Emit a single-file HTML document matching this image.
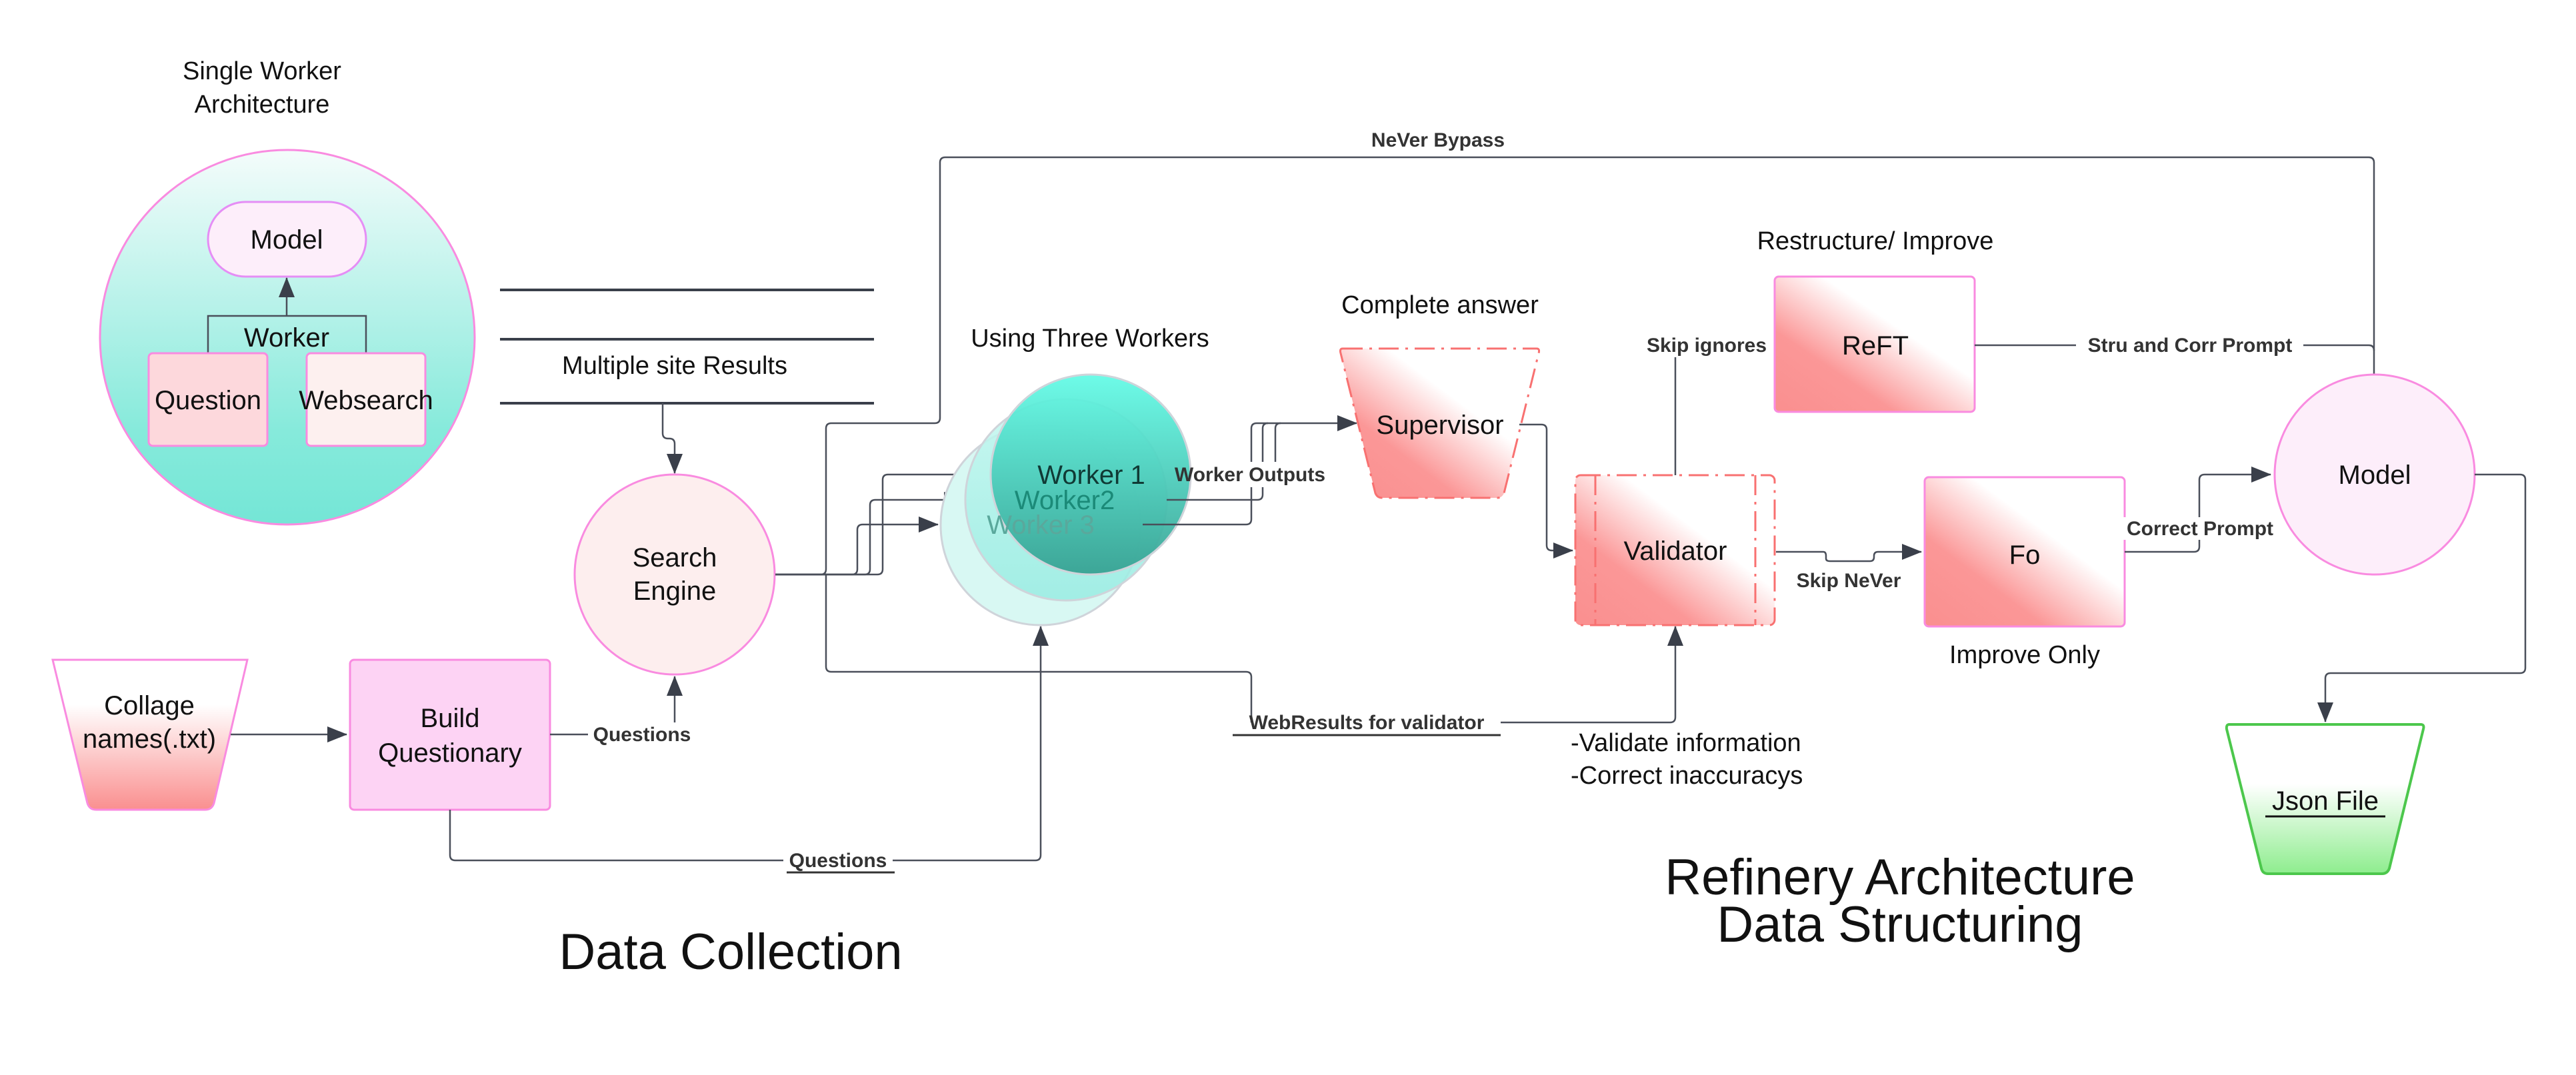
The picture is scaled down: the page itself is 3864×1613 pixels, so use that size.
<!DOCTYPE html>
<html><head><meta charset="utf-8"><style>
html,body{margin:0;padding:0;background:#fff}
svg{display:block}
text{font-family:"Liberation Sans",sans-serif;fill:#111}
.n{font-size:40px}
.t{font-size:38px}
.b{font-size:30px;font-weight:bold;fill:#333}
.big{font-size:76px}
.c{fill:none;stroke:#4a4f5a;stroke-width:2.5}
</style></head><body>
<svg width="3864" height="1613" viewBox="0 0 3864 1613" xmlns="http://www.w3.org/2000/svg">
<defs>
<marker id="a" viewBox="0 0 30 24" refX="29" refY="12" markerWidth="30" markerHeight="24" markerUnits="userSpaceOnUse" orient="auto"><path d="M0 0 L30 12 L0 24 Z" fill="#3a3f4a"/></marker>
<linearGradient id="teal" x1="0" y1="0" x2="0" y2="1"><stop offset="0" stop-color="#f4fcfb"/><stop offset="0.75" stop-color="#86eadb"/><stop offset="1" stop-color="#74e6d6"/></linearGradient>
<linearGradient id="w1" x1="0" y1="0" x2="0" y2="1"><stop offset="0" stop-color="#62fbe6"/><stop offset="1" stop-color="#35a091"/></linearGradient>
<linearGradient id="w2" x1="0" y1="0" x2="0" y2="1"><stop offset="0" stop-color="#c6f7f0"/><stop offset="1" stop-color="#98ece2"/></linearGradient>
<linearGradient id="red" x1="0" y1="1" x2="1" y2="0"><stop offset="0" stop-color="#fa8f8f"/><stop offset="0.3" stop-color="#fb9797"/><stop offset="0.62" stop-color="#ffffff"/></linearGradient>
<linearGradient id="redv" x1="0" y1="0" x2="0" y2="1"><stop offset="0" stop-color="#fff"/><stop offset="0.3" stop-color="#fff"/><stop offset="1" stop-color="#fa8f8f"/></linearGradient>
<linearGradient id="green" x1="0" y1="0" x2="0" y2="1"><stop offset="0" stop-color="#fff"/><stop offset="0.4" stop-color="#fff"/><stop offset="1" stop-color="#8eed8e"/></linearGradient>
</defs>

<text class="t" x="393" y="119" text-anchor="middle">Single Worker</text>
<text class="t" x="393" y="169" text-anchor="middle">Architecture</text>
<circle cx="431" cy="506" r="281" fill="url(#teal)" stroke="#f98be0" stroke-width="3"/>
<rect x="312" y="303" width="237" height="112" rx="56" fill="#fdeefa" stroke="#e58ef5" stroke-width="3"/>
<text class="n" x="430" y="373" text-anchor="middle">Model</text>
<path class="c" d="M312 530 V474 H549 V530 M430 474 V417" marker-end="url(#a)"/>
<text class="n" x="430" y="520" text-anchor="middle">Worker</text>
<rect x="223" y="530" width="178" height="139" rx="6" fill="#fdd8dc" stroke="#f98be0" stroke-width="3"/>
<rect x="460" y="530" width="178" height="139" rx="6" fill="#fdf0ef" stroke="#f98be0" stroke-width="3"/>
<text class="n" x="312" y="614" text-anchor="middle">Question</text>
<text class="n" x="549" y="614" text-anchor="middle">Websearch</text>

<g stroke="#3a3f4a" stroke-width="4"><line x1="750" y1="435" x2="1311" y2="435"/><line x1="750" y1="509" x2="1311" y2="509"/><line x1="750" y1="605" x2="1311" y2="605"/></g>
<text class="t" x="1012" y="561" text-anchor="middle">Multiple site Results</text>
<path class="c" d="M994 605 V650 Q994 658 1002 658 H1004 Q1012 658 1012 666 V710" marker-end="url(#a)"/>

<circle cx="1012" cy="862" r="150" fill="#fdeeee" stroke="#f98be0" stroke-width="3"/>
<text class="n" x="1012" y="850" text-anchor="middle">Search</text>
<text class="n" x="1012" y="900" text-anchor="middle">Engine</text>

<path d="M79 990 H371 L321 1205 Q318 1215 308 1215 H144 Q134 1215 131 1205 Z" fill="url(#redv)" stroke="#f98be0" stroke-width="3"/>
<text class="n" x="224" y="1072" text-anchor="middle">Collage</text>
<text class="n" x="224" y="1122" text-anchor="middle">names(.txt)</text>
<path class="c" d="M346 1102 H520" marker-end="url(#a)"/>
<rect x="525" y="990" width="300" height="225" rx="6" fill="#fdd3f4" stroke="#f98be0" stroke-width="3"/>
<text class="n" x="675" y="1091" text-anchor="middle">Build</text>
<text class="n" x="675" y="1143" text-anchor="middle">Questionary</text>
<path class="c" d="M825 1102 H1012 V1015" marker-end="url(#a)"/>
<rect x="882" y="1084" width="163" height="34" fill="#fff"/>
<text class="b" x="963" y="1112" text-anchor="middle">Questions</text>
<path class="c" d="M675 1215 V1283 Q675 1291 683 1291 H1553 Q1561 1291 1561 1283 V940" marker-end="url(#a)"/>
<rect x="1175" y="1272" width="164" height="40" fill="#fff"/>
<text class="b" x="1257" y="1301" text-anchor="middle">Questions</text>
<line x1="1180" y1="1309" x2="1342" y2="1309" stroke="#333" stroke-width="3"/>
<text class="big" x="1096" y="1454" text-anchor="middle">Data Collection</text>

<path class="c" d="M1163 862 H1278 Q1286 862 1286 854 V795 Q1286 787 1294 787 H1407" marker-end="url(#a)"/>
<path class="c" d="M1163 862 H1297 Q1305 862 1305 854 V758 Q1305 750 1313 750 H1445" marker-end="url(#a)"/>
<path class="c" d="M1163 862 H1316 Q1324 862 1324 854 V720 Q1324 712 1332 712 H1483" marker-end="url(#a)"/>
<path class="c" d="M1163 862 H1231 Q1239 862 1239 854 V643 Q1239 635 1247 635 H1402 Q1410 635 1410 627 V244 Q1410 236 1418 236 H3553 Q3561 236 3561 244 V610" marker-end="url(#a)"/>
<text class="b" x="2157" y="220" text-anchor="middle">NeVer Bypass</text>
<path class="c" d="M1239 862 V1000 Q1239 1008 1247 1008 H1869 Q1877 1008 1877 1016 V1084 M2251 1084 H2505 Q2513 1084 2513 1076 V940" marker-end="url(#a)"/>
<text class="b" x="2050" y="1094" text-anchor="middle">WebResults for validator</text>
<line x1="1849" y1="1103" x2="2251" y2="1103" stroke="#333" stroke-width="3"/>

<text class="t" x="1635" y="520" text-anchor="middle">Using Three Workers</text>
<circle cx="1561" cy="788" r="150" fill="#d8f8f3" stroke="#cfd4da" stroke-width="3"/>
<circle cx="1599" cy="750" r="151" fill="url(#w2)" fill-opacity="0.85" stroke="#cfd4da" stroke-width="3"/>
<circle cx="1636" cy="712" r="150" fill="url(#w1)" fill-opacity="0.93" stroke="#cfd4da" stroke-width="3"/>
<text class="n" x="1637" y="726" text-anchor="middle" style="fill:#103a35">Worker 1</text>
<text class="n" x="1597" y="764" text-anchor="middle" style="fill:#1b8a78">Worker2</text>
<text class="n" x="1561" y="801" text-anchor="middle" style="fill:#5aa89c">Worker 3</text>
<path class="c" d="M1714 787 H1869 Q1877 787 1877 779 V643 Q1877 635 1885 635 H2035" marker-end="url(#a)"/>
<path class="c" d="M1750 750 H1886 Q1894 750 1894 742 V643 Q1894 635 1902 635"/>
<path class="c" d="M1913 693 V643 Q1913 635 1921 635"/>
<rect x="1870" y="693" width="50" height="38" fill="#fff"/>
<text class="b" x="1875" y="722" text-anchor="middle">Worker Outputs</text>

<text class="t" x="2160" y="470" text-anchor="middle">Complete answer</text>
<path d="M2014 523 H2305 Q2310 523 2308 530 L2256 740 Q2253 747 2246 747 H2073 Q2066 747 2063 740 L2011 530 Q2009 523 2014 523 Z" fill="url(#red)" stroke="#f87171" stroke-width="3" stroke-dasharray="30 10 4 10"/>
<text class="n" x="2160" y="651" text-anchor="middle">Supervisor</text>
<path class="c" d="M2279 637 H2312 Q2320 637 2320 645 V818 Q2320 826 2328 826 H2359" marker-end="url(#a)"/>

<rect x="2363" y="713" width="299" height="225" rx="8" fill="url(#red)" stroke="#f87171" stroke-width="3" stroke-dasharray="30 10 4 10"/>
<line x1="2393" y1="713" x2="2393" y2="938" stroke="#f87171" stroke-width="3" stroke-dasharray="30 10 4 10"/>
<line x1="2633" y1="713" x2="2633" y2="938" stroke="#f87171" stroke-width="3" stroke-dasharray="30 10 4 10"/>
<text class="n" x="2513" y="840" text-anchor="middle">Validator</text>
<path class="c" d="M2513 713 V536"/>
<text class="b" x="2560" y="528" text-anchor="middle">Skip ignores</text>
<text class="t" x="2356" y="1127">-Validate information</text>
<text class="t" x="2356" y="1176">-Correct inaccuracys</text>
<text class="big" x="2850" y="1342" text-anchor="middle">Refinery Architecture</text>
<text class="big" x="2850" y="1413" text-anchor="middle">Data Structuring</text>

<text class="t" x="2813" y="374" text-anchor="middle">Restructure/ Improve</text>
<rect x="2662" y="415" width="300" height="203" rx="6" fill="url(#red)" stroke="#f98be0" stroke-width="3"/>
<text class="n" x="2813" y="532" text-anchor="middle">ReFT</text>
<path class="c" d="M2962 518 H3553 Q3561 518 3561 526"/>
<rect x="3114" y="500" width="341" height="36" fill="#fff"/>
<text class="b" x="3285" y="528" text-anchor="middle">Stru and Corr Prompt</text>

<path class="c" d="M2664 828 H2735 Q2739 828 2739 834 V838 Q2739 842 2745 842 H2805 Q2811 842 2811 836 V834 Q2811 828 2817 828 H2882" marker-end="url(#a)"/>
<text class="b" x="2773" y="881" text-anchor="middle">Skip NeVer</text>
<rect x="2887" y="716" width="300" height="224" rx="6" fill="url(#red)" stroke="#f98be0" stroke-width="3"/>
<text class="n" x="3037" y="846" text-anchor="middle">Fo</text>
<text class="t" x="3037" y="995" text-anchor="middle">Improve Only</text>
<path class="c" d="M3187 828 H3291 Q3299 828 3299 820 V720 Q3299 712 3307 712 H3406" marker-end="url(#a)"/>
<rect x="3175" y="776" width="249" height="34" fill="#fff"/>
<text class="b" x="3300" y="803" text-anchor="middle">Correct Prompt</text>

<circle cx="3562" cy="712" r="150" fill="#fdeefa" stroke="#f98be0" stroke-width="3"/>
<text class="n" x="3562" y="726" text-anchor="middle">Model</text>
<path class="c" d="M3712 712 H3780 Q3788 712 3788 720 V1002 Q3788 1010 3780 1010 H3496 Q3488 1010 3488 1018 V1083" marker-end="url(#a)"/>

<path d="M3344 1087 H3631 Q3637 1087 3635 1094 L3584 1303 Q3581 1311 3573 1311 H3402 Q3394 1311 3392 1303 L3340 1094 Q3339 1087 3344 1087 Z" fill="url(#green)" stroke="#4cc74c" stroke-width="4"/>
<text class="n" x="3488" y="1215" text-anchor="middle">Json File</text>
<line x1="3398" y1="1225" x2="3578" y2="1225" stroke="#111" stroke-width="3"/>
</svg>
</body></html>
